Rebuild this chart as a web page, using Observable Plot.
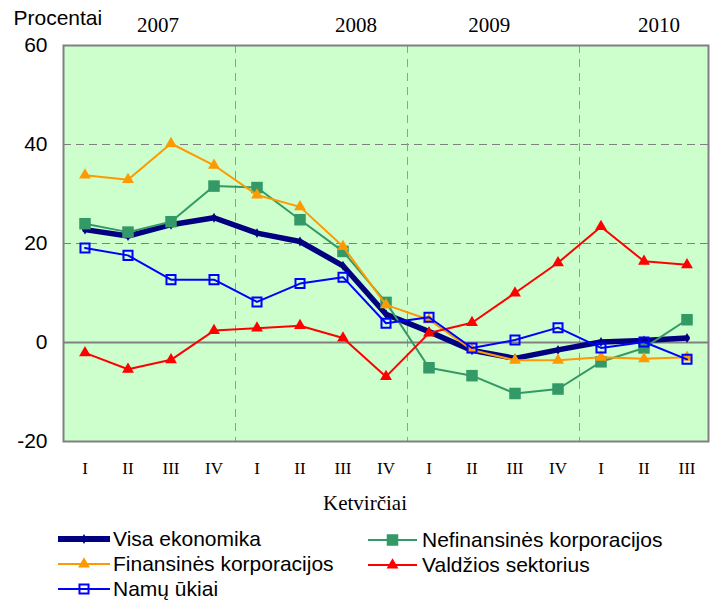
<!DOCTYPE html>
<html>
<head>
<meta charset="utf-8">
<script src="https://cdn.jsdelivr.net/npm/d3@7"></script>
<script src="https://cdn.jsdelivr.net/npm/@observablehq/plot@0.6"></script>
<style>
  body { margin: 0; background: white; }
  #legend { position: relative; width: 715px; height: 81px; font-family: "Liberation Sans", Arial, sans-serif; font-size: 21px; color: #000; }
  #legend .item { position: absolute; height: 24px; }
  #legend .item svg { position: absolute; top: 2px; }
  #legend .item span { position: absolute; line-height: 24px; white-space: nowrap; top: 0; }
</style>
</head>
<body>
<div id="chart"></div>
<div id="legend"></div>
<script>
const quarters = ["I","II","III","IV","I","II","III","IV","I","II","III","IV","I","II","III"];
const years = ["2007","2008","2009","2010"];
const yearPos = [1.7, 6.3, 9.4, 13.35];
const yTicks = [-20, 0, 20, 40, 60];

const visa   = [22.8, 21.5, 23.8, 25.2, 22.1, 20.4, 15.5, 5.7, 2.2, -1.6, -3.2, -1.5, 0.1, 0.4, 0.9];
const nefin  = [24.0, 22.3, 24.4, 31.6, 31.3, 24.8, 18.4, 8.1, -5.1, -6.7, -10.3, -9.4, -3.9, -1.1, 4.6];
const finans = [33.8, 32.9, 40.2, 35.8, 29.8, 27.4, 19.4, 7.6, 4.6, -1.5, -3.6, -3.6, -3.0, -3.3, -3.0];
const valdz  = [-2.1, -5.4, -3.5, 2.4, 2.9, 3.4, 0.9, -6.9, 1.9, 4.0, 10.0, 16.1, 23.4, 16.4, 15.7];
const namu   = [19.1, 17.6, 12.7, 12.7, 8.2, 11.9, 13.2, 3.9, 5.1, -1.1, 0.5, 3.0, -1.1, 0.1, -3.4];

const series = [
  {name: "Visa ekonomika", values: visa, color: "#000080", width: 5.5, symbol: "diamond", r: 3, fill: "#000080", mstroke: "none"},
  {name: "Nefinansinės korporacijos", values: nefin, color: "#339966", width: 2, symbol: "square", r: 6.5, fill: "#339966", mstroke: "none"},
  {name: "Finansinės korporacijos", values: finans, color: "#FF9900", width: 2, symbol: "triangle", r: 4.4, fill: "#FF9900", mstroke: "none"},
  {name: "Valdžios sektorius", values: valdz, color: "#FF0000", width: 2, symbol: "triangle", r: 4.4, fill: "#FF0000", mstroke: "none"},
  {name: "Namų ūkiai", values: namu, color: "#0000FF", width: 2, symbol: "square", r: 5.1, fill: "none", mstroke: "#0000FF"}
];

const idx = d3.range(quarters.length);
const marks = [
  Plot.frame({fill: "#CCFFCC"}),
  Plot.ruleY([20, 40], {stroke: "#808080", strokeWidth: 1, strokeDasharray: "8,5"}),
  Plot.ruleX([3.5, 7.5, 11.5], {stroke: "#999999", strokeWidth: 1, strokeDasharray: "8,6"}),
  Plot.ruleY([0], {stroke: "#808080", strokeWidth: 2}),
];
for (const s of series) {
  const data = s.values.map((v, i) => ({i, v}));
  marks.push(Plot.line(data, {x: "i", y: "v", stroke: s.color, strokeWidth: s.width, strokeLinejoin: "round"}));
  marks.push(Plot.dot(data, {x: "i", y: "v", symbol: () => s.symbol, r: s.r, fill: s.fill, stroke: s.mstroke, strokeWidth: s.fill === "none" ? 2 : 0}));
}
marks.push(
  Plot.frame({stroke: "#808080", strokeWidth: 2}),
  Plot.axisY(yTicks, {label: null, tickSize: 0, tickPadding: 16, tickFormat: d => String(d), fontSize: 21, fontFamily: "Liberation Sans, Arial, sans-serif"}),
  Plot.axisX(idx, {label: null, tickSize: 0, tickPadding: 20, tickFormat: i => quarters[i], fontSize: 17, fontFamily: "Liberation Serif, Times New Roman, serif"}),
  Plot.text(years, {x: (d, i) => yearPos[i], frameAnchor: "top", dy: -20, lineAnchor: "middle", fontSize: 21, fontFamily: "Liberation Serif, Times New Roman, serif"}),
  Plot.text(["Procentai"], {frameAnchor: "top-left", textAnchor: "start", dx: -50, dy: -27, lineAnchor: "middle", fontSize: 21, fontFamily: "Liberation Sans, Arial, sans-serif"}),
  Plot.text(["Ketvirčiai"], {frameAnchor: "bottom", dx: -21, dy: 62, lineAnchor: "middle", fontSize: 21, fontFamily: "Liberation Serif, Times New Roman, serif"})
);

const chart = Plot.plot({
  width: 715,
  height: 520,
  marginLeft: 63,
  marginRight: 7,
  marginTop: 45,
  marginBottom: 79,
  style: {background: "white", color: "#000", overflow: "visible"},
  x: {type: "linear", domain: [-0.5, 14.5], axis: null},
  y: {domain: [-20, 60], axis: null},
  marks
});
document.getElementById("chart").appendChild(chart);

// Legend
const legend = document.getElementById("legend");
const symMap = {diamond: d3.symbolDiamond, square: d3.symbolSquare, triangle: d3.symbolTriangle};
const pos = [
  {x: 58, lw: 52, tx: 113, cy: 19},
  {x: 368, lw: 49, tx: 422, cy: 20},
  {x: 58, lw: 52, tx: 113, cy: 44},
  {x: 368, lw: 49, tx: 422, cy: 45},
  {x: 58, lw: 52, tx: 113, cy: 69}
];
series.forEach((s, k) => {
  const p = pos[k];
  const item = document.createElement("div");
  item.className = "item";
  item.style.left = "0px";
  item.style.top = (p.cy - 12) + "px";
  item.style.width = "715px";
  const path = d3.symbol(symMap[s.symbol], Math.PI * s.r * s.r)();
  const lw = s.width > 3 ? 6 : 2;
  item.innerHTML =
    `<svg width="${p.lw}" height="20" style="left:${p.x}px">` +
    `<line x1="0" x2="${p.lw}" y1="10" y2="10" stroke="${s.color}" stroke-width="${lw}" stroke-linecap="round"/>` +
    `<path d="${path}" transform="translate(${p.lw / 2},10)" fill="${s.fill}" stroke="${s.mstroke}" stroke-width="${s.fill === "none" ? 2 : 0}"/>` +
    `</svg><span style="left:${p.tx}px">${s.name}</span>`;
  legend.appendChild(item);
});
</script>
</body>
</html>
